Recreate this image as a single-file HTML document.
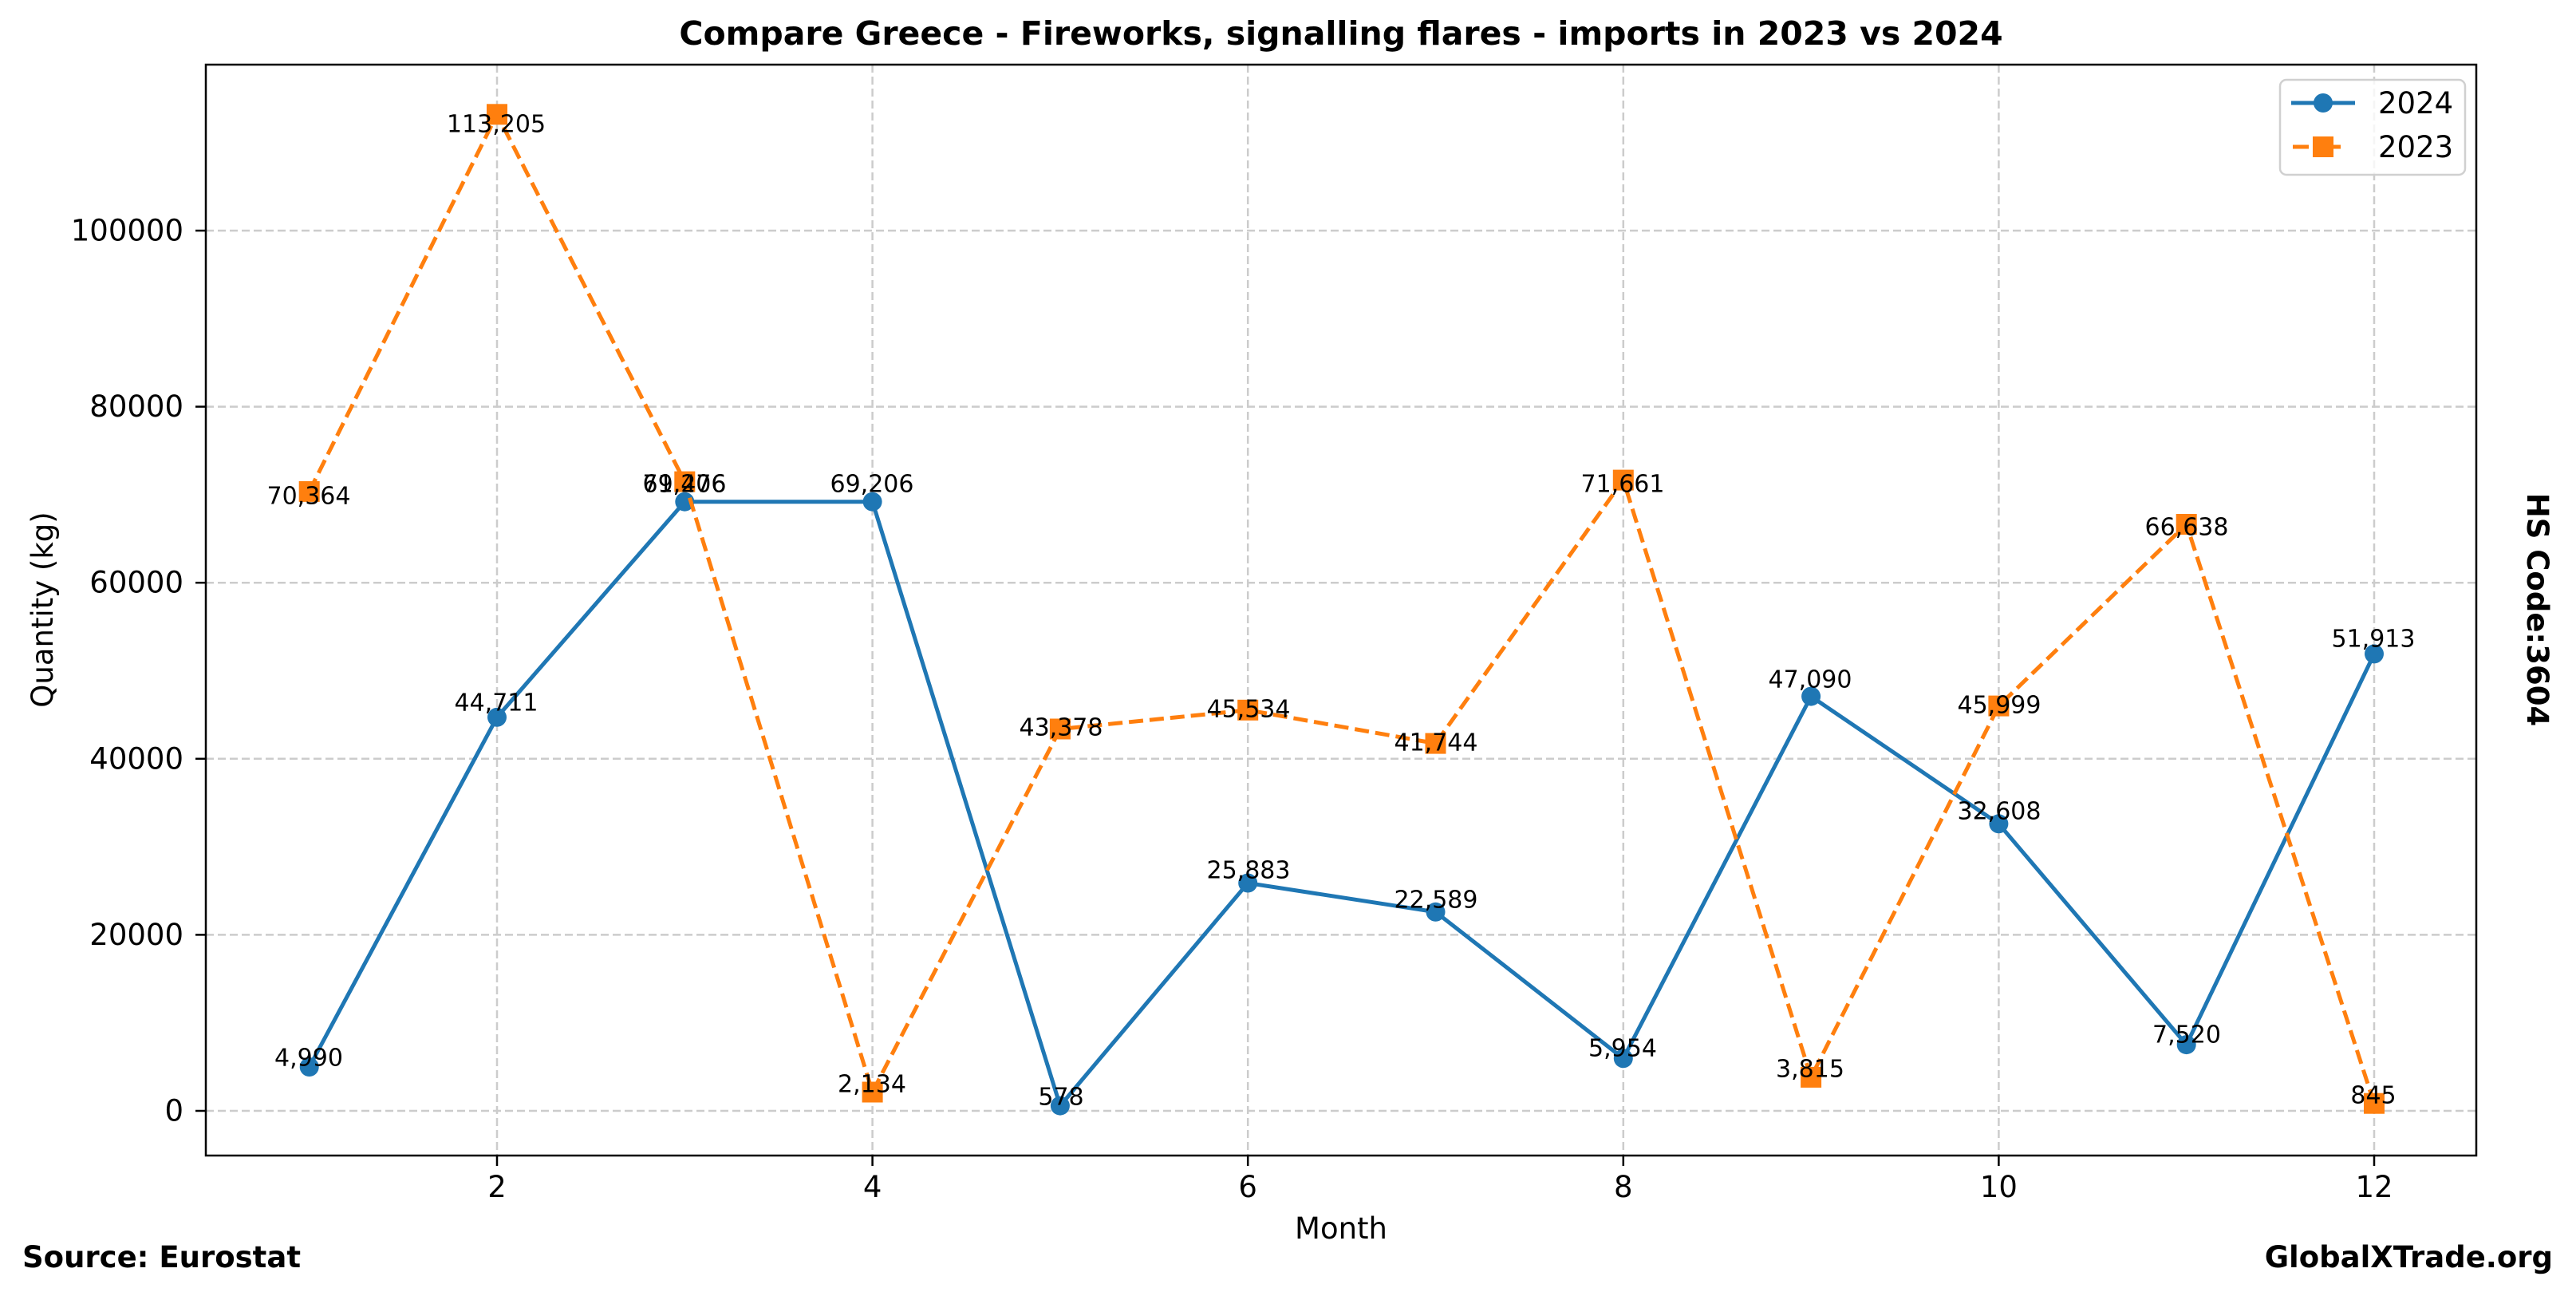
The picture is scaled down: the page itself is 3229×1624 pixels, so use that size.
<!DOCTYPE html>
<html><head><meta charset="utf-8"><style>
html,body{margin:0;padding:0;background:#fff}
svg{display:block;font-family:"DejaVu Sans","Liberation Sans",sans-serif}
</style></head><body>
<svg width="3229" height="1624" viewBox="0 0 3229 1624" xmlns="http://www.w3.org/2000/svg">
<rect width="3229" height="1624" fill="#fff"/>
<g stroke="#cccccc" stroke-width="2.5" stroke-dasharray="10,5">
<line x1="258" x2="3104" y1="1392" y2="1392"/><line x1="258" x2="3104" y1="1171.4" y2="1171.4"/><line x1="258" x2="3104" y1="950.8" y2="950.8"/><line x1="258" x2="3104" y1="730.2" y2="730.2"/><line x1="258" x2="3104" y1="509.6" y2="509.6"/><line x1="258" x2="3104" y1="289" y2="289"/>
<line y1="81" y2="1448" x1="623" x2="623"/><line y1="81" y2="1448" x1="1093.6" x2="1093.6"/><line y1="81" y2="1448" x1="1564.2" x2="1564.2"/><line y1="81" y2="1448" x1="2034.8" x2="2034.8"/><line y1="81" y2="1448" x1="2505.4" x2="2505.4"/><line y1="81" y2="1448" x1="2976" x2="2976"/>
</g>
<polyline fill="none" stroke="#1f77b4" stroke-width="5" points="387.7,1337 623,898.8 858.3,628.7 1093.6,628.7 1328.9,1385.6 1564.2,1106.5 1799.5,1142.8 2034.8,1326.3 2270.1,872.6 2505.4,1032.3 2740.7,1309.1 2976,819.4"/>
<g fill="#1f77b4">
<circle cx="387.7" cy="1337" r="12"/><circle cx="623" cy="898.8" r="12"/><circle cx="858.3" cy="628.7" r="12"/><circle cx="1093.6" cy="628.7" r="12"/><circle cx="1328.9" cy="1385.6" r="12"/><circle cx="1564.2" cy="1106.5" r="12"/><circle cx="1799.5" cy="1142.8" r="12"/><circle cx="2034.8" cy="1326.3" r="12"/><circle cx="2270.1" cy="872.6" r="12"/><circle cx="2505.4" cy="1032.3" r="12"/><circle cx="2740.7" cy="1309.1" r="12"/><circle cx="2976" cy="819.4" r="12"/>
</g>
<polyline fill="none" stroke="#ff7f0e" stroke-width="5" stroke-dasharray="18,8" points="387.7,615.9 623,143.3 858.3,603.6 1093.6,1368.5 1328.9,913.5 1564.2,889.8 1799.5,931.6 2034.8,601.6 2270.1,1349.9 2505.4,884.6 2740.7,657 2976,1382.7"/>
<g fill="#ff7f0e">
<rect x="374.7" y="602.9" width="26" height="26"/><rect x="610" y="130.3" width="26" height="26"/><rect x="845.3" y="590.6" width="26" height="26"/><rect x="1080.6" y="1355.5" width="26" height="26"/><rect x="1315.9" y="900.5" width="26" height="26"/><rect x="1551.2" y="876.8" width="26" height="26"/><rect x="1786.5" y="918.6" width="26" height="26"/><rect x="2021.8" y="588.6" width="26" height="26"/><rect x="2257.1" y="1336.9" width="26" height="26"/><rect x="2492.4" y="871.6" width="26" height="26"/><rect x="2727.7" y="644" width="26" height="26"/><rect x="2963" y="1369.7" width="26" height="26"/>
</g>
<g font-size="30" text-anchor="middle" fill="#000" dominant-baseline="central">
<text x="387" y="1326">4,990</text><text x="622" y="881">44,711</text><text x="858" y="607">69,206</text><text x="1093" y="607">69,206</text><text x="1330" y="1375">578</text><text x="1565" y="1091">25,883</text><text x="1800" y="1128">22,589</text><text x="2034" y="1314">5,954</text><text x="2269" y="852">47,090</text><text x="2506" y="1017">32,608</text><text x="2741" y="1297">7,520</text><text x="2975" y="801">51,913</text>
<text x="387" y="622">70,364</text><text x="622" y="156">113,205</text><text x="858" y="607">71,476</text><text x="1093" y="1359">2,134</text><text x="1330" y="912">43,378</text><text x="1565" y="889">45,534</text><text x="1800" y="931">41,744</text><text x="2034" y="607">71,661</text><text x="2269" y="1340">3,815</text><text x="2506" y="884">45,999</text><text x="2741" y="661">66,638</text><text x="2975" y="1373">845</text>
</g>
<rect x="258" y="81" width="2846" height="1367" fill="none" stroke="#000" stroke-width="2.5"/>
<g stroke="#000" stroke-width="2.5">
<line x1="245" x2="258" y1="1392" y2="1392"/><line x1="245" x2="258" y1="1171.4" y2="1171.4"/><line x1="245" x2="258" y1="950.8" y2="950.8"/><line x1="245" x2="258" y1="730.2" y2="730.2"/><line x1="245" x2="258" y1="509.6" y2="509.6"/><line x1="245" x2="258" y1="289" y2="289"/>
<line y1="1448" y2="1461" x1="623" x2="623"/><line y1="1448" y2="1461" x1="1093.6" x2="1093.6"/><line y1="1448" y2="1461" x1="1564.2" x2="1564.2"/><line y1="1448" y2="1461" x1="2034.8" x2="2034.8"/><line y1="1448" y2="1461" x1="2505.4" x2="2505.4"/><line y1="1448" y2="1461" x1="2976" x2="2976"/>
</g>
<g font-size="37" fill="#000" text-anchor="end" dominant-baseline="central">
<text x="230" y="1392">0</text><text x="230" y="1171.4">20000</text><text x="230" y="950.8">40000</text><text x="230" y="730.2">60000</text><text x="230" y="509.6">80000</text><text x="230" y="289">100000</text>
</g>
<g font-size="37" fill="#000" text-anchor="middle">
<text x="623" y="1500">2</text><text x="1093.6" y="1500">4</text><text x="1564.2" y="1500">6</text><text x="2034.8" y="1500">8</text><text x="2505.4" y="1500">10</text><text x="2976" y="1500">12</text>
<text x="1681" y="1552">Month</text>
<text transform="translate(66,764) rotate(-90)">Quantity (kg)</text>
</g>
<text x="1681" y="56" font-size="41" font-weight="bold" text-anchor="middle">Compare Greece - Fireworks, signalling flares - imports in 2023 vs 2024</text>
<text x="28" y="1588" font-size="37" font-weight="bold">Source: Eurostat</text>
<text x="3200" y="1588" font-size="37" font-weight="bold" text-anchor="end">GlobalXTrade.org</text>
<text transform="translate(3168,764) rotate(90)" font-size="37" font-weight="bold" text-anchor="middle">HS Code:3604</text>
<rect x="2858" y="100" width="232" height="119" rx="8" fill="#fff" fill-opacity="0.8" stroke="#d0d0d0" stroke-width="2.5"/>
<line x1="2872" x2="2952" y1="129" y2="129" stroke="#1f77b4" stroke-width="5"/>
<circle cx="2912" cy="129" r="12" fill="#1f77b4"/>
<line x1="2874" x2="2950" y1="184" y2="184" stroke="#ff7f0e" stroke-width="5" stroke-dasharray="20,20"/>
<rect x="2899" y="171" width="26" height="26" fill="#ff7f0e"/>
<text x="2981" y="142" font-size="37">2024</text>
<text x="2981" y="197" font-size="37">2023</text>
</svg>
</body></html>
